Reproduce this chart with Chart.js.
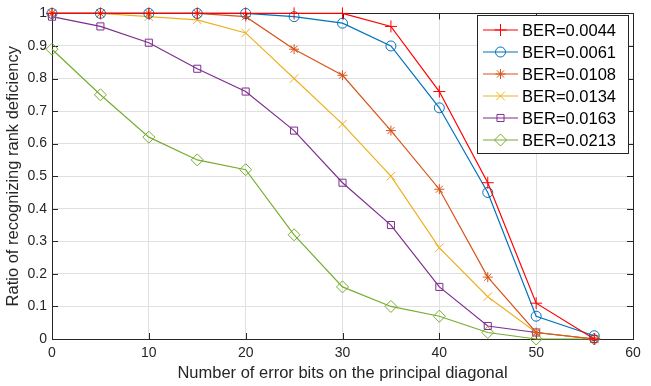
<!DOCTYPE html>
<html>
<head>
<meta charset="utf-8">
<script src="https://cdn.jsdelivr.net/npm/chart.js@4"></script>
<style>
  html, body { margin: 0; padding: 0; background: #fff; }
  canvas { display: block; }
</style>
</head>
<body>
<canvas id="c" width="651" height="386"></canvas>
<script>
// error bits on the diagonal
const errorBits = [0, 5, 10, 15, 20, 25, 30, 35, 40, 45, 50, 56];

const berLabels = ['BER=0.0044', 'BER=0.0061', 'BER=0.0108', 'BER=0.0134', 'BER=0.0163', 'BER=0.0213'];

const ber0044 = [1, 1, 1, 1, 1, 1, 1, 0.96, 0.76, 0.48, 0.11, 0];
const ber0061 = [1, 1, 1, 1, 1, 0.99, 0.97, 0.90, 0.71, 0.45, 0.07, 0.01];
const ber0108 = [1, 1, 1, 1, 0.99, 0.89, 0.81, 0.64, 0.46, 0.19, 0.02, 0];
const ber0134 = [1, 1, 0.99, 0.98, 0.94, 0.80, 0.66, 0.50, 0.28, 0.13, 0.02, 0];
const ber0163 = [0.99, 0.96, 0.91, 0.83, 0.76, 0.64, 0.48, 0.35, 0.16, 0.04, 0.02, 0];
const ber0213 = [0.89, 0.75, 0.62, 0.55, 0.52, 0.32, 0.16, 0.10, 0.07, 0.02, 0, 0];

const xTicks = [0, 10, 20, 30, 40, 50, 60];

const FONT = "Arial, 'Liberation Sans', sans-serif";
const AXIS = '#262626';

function series(label, values, color, style, r) {
    return {
        label: label,
        data: values.map((v, i) => ({ x: errorBits[i], y: v })),
        borderColor: color,
        backgroundColor: 'rgba(0,0,0,0)',
        pointBorderColor: color,
        pointBackgroundColor: 'rgba(0,0,0,0)',
        pointStyle: style,
        pointRadius: r,
        pointBorderWidth: 1,
        borderWidth: 1.2,
        tension: 0,
        clip: false
    };
}

const datasets = [
    series(berLabels[0], ber0044, '#FF0000', 'cross', 6),
    series(berLabels[1], ber0061, '#0072BD', 'circle', 5),
    series(berLabels[2], ber0108, '#D95319', 'star', 5),
    series(berLabels[3], ber0134, '#EDB120', 'crossRot', 6),
    series(berLabels[4], ber0163, '#7E2F8E', 'rect', 5),
    series(berLabels[5], ber0213, '#77AC30', 'rectRot', 6)
];

// box + inward ticks like matlab
const boxPlugin = {
    id: 'box',
    beforeDatasetsDraw(chart) {
        const ctx = chart.ctx;
        const a = chart.chartArea;
        const xs = chart.scales.x, ys = chart.scales.y;
        ctx.save();
        ctx.strokeStyle = AXIS;
        ctx.lineWidth = 1;
        ctx.beginPath();
        xs.ticks.forEach(t => {
            const px = Math.round(xs.getPixelForValue(t.value)) + 0.5;
            ctx.moveTo(px, a.bottom); ctx.lineTo(px, a.bottom - 6);
            ctx.moveTo(px, a.top); ctx.lineTo(px, a.top + 6);
        });
        ys.ticks.forEach(t => {
            const py = Math.round(ys.getPixelForValue(t.value)) + 0.5;
            ctx.moveTo(a.left, py); ctx.lineTo(a.left + 6, py);
            ctx.moveTo(a.right, py); ctx.lineTo(a.right - 6, py);
        });
        ctx.stroke();
        ctx.strokeRect(Math.round(a.left) + 0.5, Math.round(a.top) + 0.5,
            Math.round(a.right - a.left), Math.round(a.bottom - a.top));
        ctx.restore();
    },
    afterDraw(chart) {
        // legend box in the upper right
        const ctx = chart.ctx;
        const bx = 477, by = 15, bw = 151, bh = 138;
        ctx.save();
        ctx.fillStyle = '#fff';
        ctx.fillRect(bx, by, bw, bh);
        ctx.strokeStyle = AXIS;
        ctx.lineWidth = 1;
        ctx.strokeRect(bx + 0.5, by + 0.5, bw, bh);
        ctx.font = '16.5px ' + FONT;
        ctx.textBaseline = 'middle';
        ctx.textAlign = 'left';
        chart.data.datasets.forEach((ds, i) => {
            const y = by + 15 + i * 22;
            ctx.strokeStyle = ds.borderColor;
            ctx.lineWidth = 1.2;
            ctx.beginPath();
            ctx.moveTo(bx + 6, y); ctx.lineTo(bx + 41, y);
            ctx.stroke();
            ctx.lineWidth = 1;
            ctx.fillStyle = 'rgba(0,0,0,0)';
            Chart.helpers.drawPoint(ctx, {
                pointStyle: ds.pointStyle,
                radius: ds.pointRadius,
                borderWidth: 1,
                rotation: 0
            }, bx + 23.5, y);
            ctx.fillStyle = '#000';
            ctx.fillText(ds.label, bx + 45, y + 1);
        });
        ctx.restore();
    }
};

new Chart(document.getElementById('c'), {
    type: 'line',
    data: { datasets: datasets },
    options: {
        responsive: false,
        animation: false,
        events: [],
        layout: { padding: { top: 11, right: 18, left: 0, bottom: 0 } },
        plugins: {
            legend: { display: false },
            tooltip: { enabled: false }
        },
        scales: {
            x: {
                type: 'linear',
                min: 0,
                max: 60,
                afterBuildTicks: s => { s.ticks = xTicks.map(v => ({ value: v })); },
                afterFit: s => { s.height = 47; },
                grid: { color: '#e0e0e0', lineWidth: 1, drawTicks: false },
                border: { display: false },
                ticks: { color: AXIS, padding: 6, font: { family: FONT, size: 14 }, maxRotation: 0 },
                title: {
                    display: true,
                    text: 'Number of error bits on the principal diagonal',
                    color: AXIS,
                    font: { family: FONT, size: 16.5 },
                    padding: { top: 0, bottom: 3 }
                }
            },
            y: {
                min: 0,
                max: 1,
                afterFit: s => { s.width = 52; },
                grid: { color: '#e0e0e0', lineWidth: 1, drawTicks: false },
                border: { display: false },
                ticks: {
                    color: AXIS,
                    padding: 5,
                    stepSize: 0.1,
                    font: { family: FONT, size: 14 },
                    callback: v => String(Math.round(v * 10) / 10)
                },
                title: {
                    display: true,
                    text: 'Ratio of recognizing rank deficiency',
                    color: AXIS,
                    font: { family: FONT, size: 16.5 },
                    padding: { top: 4, bottom: 0 }
                }
            }
        }
    },
    plugins: [boxPlugin]
});
</script>
</body>
</html>
